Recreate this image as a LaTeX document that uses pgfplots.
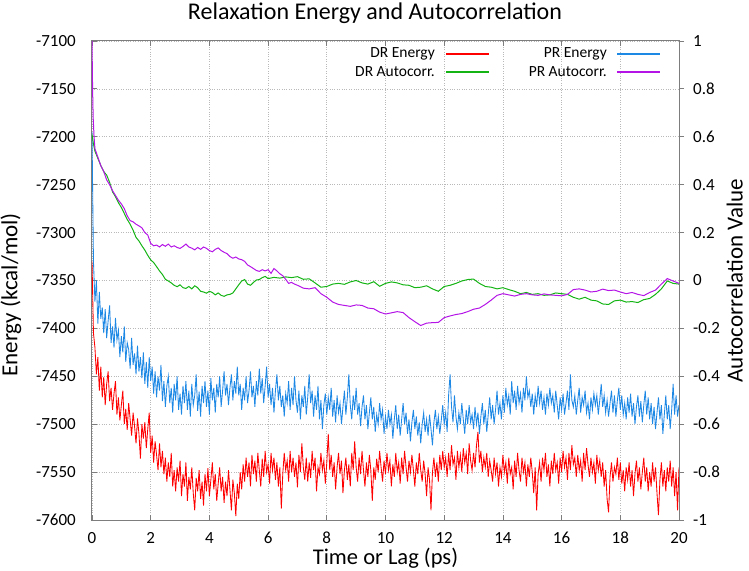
\documentclass[border=0pt]{standalone}
\usepackage{fontspec}
\setmainfont{Carlito}
\usepackage{pgfplots}
\pgfplotsset{compat=1.18}
\usepackage{pgfplotstable}

\definecolor{drE}{RGB}{255,0,0}
\definecolor{prE}{RGB}{30,136,229}
\definecolor{drA}{RGB}{20,180,20}
\definecolor{prA}{RGB}{180,20,230}
\definecolor{axgray}{RGB}{125,125,125}
\definecolor{gridgray}{RGB}{185,185,185}

\pgfplotstableread{
t dr pr
0.00 -7330 -7195
0.05 -7405 -7330
0.10 -7420 -7372
0.15 -7448 -7350
0.20 -7430 -7395
0.25 -7465 -7362
0.30 -7440 -7390
0.35 -7472 -7378
0.40 -7451 -7405
0.45 -7480 -7380
0.50 -7458 -7410
0.55 -7445 -7392
0.60 -7476 -7376
0.65 -7462 -7415
0.70 -7485 -7398
0.75 -7468 -7420
0.80 -7455 -7389
0.85 -7490 -7412
0.90 -7472 -7402
0.95 -7496 -7430
1.00 -7480 -7408
1.05 -7465 -7425
1.10 -7500 -7398
1.15 -7484 -7435
1.20 -7506 -7415
1.25 -7478 -7422
1.30 -7495 -7442
1.35 -7512 -7410
1.40 -7488 -7438
1.45 -7502 -7426
1.50 -7520 -7448
1.55 -7494 -7418
1.60 -7510 -7445
1.65 -7536 -7430
1.70 -7500 -7452
1.75 -7515 -7425
1.80 -7498 -7458
1.85 -7525 -7435
1.90 -7505 -7462
1.95 -7488 -7430
2.00 -7530 -7455
2.05 -7512 -7440
2.10 -7540 -7468
2.15 -7518 -7445
2.20 -7532 -7472
2.25 -7548 -7450
2.30 -7520 -7465
2.35 -7545 -7438
2.40 -7528 -7476
2.45 -7552 -7455
2.50 -7535 -7482
2.55 -7560 -7460
2.60 -7540 -7450
2.65 -7555 -7478
2.70 -7530 -7462
2.75 -7565 -7488
2.80 -7548 -7458
2.85 -7570 -7475
2.90 -7545 -7450
2.95 -7560 -7485
3.00 -7538 -7468
3.05 -7575 -7490
3.10 -7552 -7460
3.15 -7565 -7478
3.20 -7540 -7455
3.25 -7580 -7485
3.30 -7555 -7465
3.35 -7568 -7492
3.40 -7545 -7458
3.45 -7572 -7480
3.50 -7590 -7470
3.55 -7556 -7448
3.60 -7570 -7486
3.65 -7548 -7466
3.70 -7578 -7492
3.75 -7560 -7460
3.80 -7585 -7478
3.85 -7552 -7455
3.90 -7570 -7482
3.95 -7546 -7465
4.00 -7575 -7490
4.05 -7558 -7452
4.10 -7540 -7475
4.15 -7568 -7462
4.20 -7552 -7488
4.25 -7580 -7458
4.30 -7562 -7472
4.35 -7545 -7450
4.40 -7570 -7482
4.45 -7555 -7465
4.50 -7582 -7445
4.55 -7560 -7470
4.60 -7575 -7458
4.65 -7548 -7480
4.70 -7568 -7462
4.75 -7590 -7448
4.80 -7558 -7475
4.85 -7572 -7455
4.90 -7596 -7468
4.95 -7562 -7440
5.00 -7578 -7470
5.05 -7550 -7458
5.10 -7568 -7485
5.15 -7542 -7462
5.20 -7560 -7475
5.25 -7535 -7450
5.30 -7555 -7478
5.35 -7540 -7465
5.40 -7565 -7445
5.45 -7532 -7472
5.50 -7552 -7460
5.55 -7538 -7482
5.60 -7560 -7455
5.65 -7530 -7470
5.70 -7548 -7442
5.75 -7565 -7468
5.80 -7536 -7452
5.85 -7555 -7478
5.90 -7528 -7460
5.95 -7550 -7440
6.00 -7542 -7472
6.05 -7562 -7458
6.10 -7530 -7480
6.15 -7548 -7462
6.20 -7535 -7488
6.25 -7558 -7465
6.30 -7540 -7448
6.35 -7565 -7475
6.40 -7545 -7460
6.45 -7588 -7482
6.50 -7552 -7470
6.55 -7530 -7492
6.60 -7548 -7468
6.65 -7538 -7478
6.70 -7560 -7455
6.75 -7528 -7485
6.80 -7550 -7462
6.85 -7535 -7480
6.90 -7555 -7450
6.95 -7540 -7475
7.00 -7566 -7488
7.05 -7532 -7465
7.10 -7550 -7495
7.15 -7520 -7470
7.20 -7545 -7482
7.25 -7558 -7460
7.30 -7535 -7490
7.35 -7560 -7472
7.40 -7540 -7448
7.45 -7556 -7478
7.50 -7528 -7465
7.55 -7548 -7492
7.60 -7535 -7470
7.65 -7570 -7485
7.70 -7545 -7460
7.75 -7552 -7495
7.80 -7530 -7475
7.85 -7548 -7505
7.90 -7538 -7480
7.95 -7562 -7468
8.00 -7540 -7490
8.05 -7510 -7472
8.10 -7548 -7485
8.15 -7532 -7462
8.20 -7555 -7492
8.25 -7540 -7475
8.30 -7568 -7498
8.35 -7545 -7470
8.40 -7530 -7488
8.45 -7552 -7478
8.50 -7538 -7500
8.55 -7572 -7482
8.60 -7548 -7465
8.65 -7535 -7490
8.70 -7558 -7472
8.75 -7542 -7448
8.80 -7565 -7480
8.85 -7530 -7495
8.90 -7548 -7470
8.95 -7518 -7485
9.00 -7545 -7462
9.05 -7560 -7490
9.10 -7535 -7478
9.15 -7552 -7502
9.20 -7528 -7482
9.25 -7548 -7470
9.30 -7565 -7495
9.35 -7540 -7480
9.40 -7555 -7505
9.45 -7532 -7488
9.50 -7548 -7472
9.55 -7580 -7495
9.60 -7545 -7482
9.65 -7558 -7508
9.70 -7536 -7490
9.75 -7550 -7500
9.80 -7528 -7478
9.85 -7545 -7495
9.90 -7560 -7485
9.95 -7538 -7510
10.00 -7552 -7492
10.05 -7530 -7505
10.10 -7548 -7485
10.15 -7538 -7500
10.20 -7565 -7490
10.25 -7542 -7515
10.30 -7555 -7495
10.35 -7530 -7480
10.40 -7550 -7505
10.45 -7540 -7490
10.50 -7562 -7512
10.55 -7535 -7495
10.60 -7552 -7478
10.65 -7528 -7500
10.70 -7545 -7488
10.75 -7560 -7510
10.80 -7538 -7495
10.85 -7550 -7518
10.90 -7532 -7498
10.95 -7548 -7485
11.00 -7565 -7505
11.05 -7540 -7492
11.10 -7552 -7512
11.15 -7530 -7498
11.20 -7548 -7520
11.25 -7560 -7500
11.30 -7538 -7488
11.35 -7552 -7508
11.40 -7575 -7495
11.45 -7545 -7512
11.50 -7558 -7490
11.55 -7590 -7505
11.60 -7550 -7522
11.65 -7535 -7498
11.70 -7555 -7485
11.75 -7540 -7505
11.80 -7560 -7492
11.85 -7532 -7510
11.90 -7548 -7496
11.95 -7528 -7480
12.00 -7545 -7500
12.05 -7535 -7488
12.10 -7555 -7508
12.15 -7530 -7470
12.20 -7548 -7448
12.25 -7522 -7482
12.30 -7542 -7498
12.35 -7535 -7470
12.40 -7558 -7492
12.45 -7528 -7505
12.50 -7545 -7488
12.55 -7532 -7500
12.60 -7550 -7478
12.65 -7525 -7495
12.70 -7540 -7510
12.75 -7530 -7485
12.80 -7552 -7500
12.85 -7520 -7480
12.90 -7538 -7498
12.95 -7548 -7490
13.00 -7530 -7505
13.05 -7545 -7482
13.10 -7522 -7500
13.15 -7508 -7488
13.20 -7540 -7510
13.25 -7528 -7492
13.30 -7550 -7478
13.35 -7535 -7500
13.40 -7545 -7485
13.45 -7530 -7508
13.50 -7555 -7490
13.55 -7538 -7472
13.60 -7548 -7495
13.65 -7560 -7480
13.70 -7535 -7500
13.75 -7552 -7485
13.80 -7540 -7465
13.85 -7565 -7490
13.90 -7545 -7478
13.95 -7555 -7495
14.00 -7532 -7470
14.05 -7550 -7488
14.10 -7540 -7462
14.15 -7562 -7480
14.20 -7535 -7470
14.25 -7552 -7490
14.30 -7545 -7455
14.35 -7568 -7478
14.40 -7538 -7465
14.45 -7555 -7485
14.50 -7530 -7460
14.55 -7548 -7478
14.60 -7560 -7468
14.65 -7535 -7488
14.70 -7550 -7462
14.75 -7540 -7475
14.80 -7565 -7450
14.85 -7542 -7472
14.90 -7555 -7465
14.95 -7535 -7482
15.00 -7550 -7468
15.05 -7572 -7490
15.10 -7545 -7470
15.15 -7590 -7482
15.20 -7552 -7460
15.25 -7540 -7478
15.30 -7560 -7465
15.35 -7535 -7485
15.40 -7548 -7472
15.45 -7530 -7490
15.50 -7555 -7468
15.55 -7542 -7480
15.60 -7565 -7462
15.65 -7538 -7478
15.70 -7552 -7470
15.75 -7530 -7488
15.80 -7548 -7465
15.85 -7540 -7480
15.90 -7562 -7495
15.95 -7535 -7472
16.00 -7550 -7485
16.05 -7528 -7468
16.10 -7545 -7490
16.15 -7535 -7478
16.20 -7558 -7465
16.25 -7530 -7485
16.30 -7548 -7448
16.35 -7522 -7475
16.40 -7542 -7482
16.45 -7535 -7470
16.50 -7555 -7490
16.55 -7532 -7475
16.60 -7548 -7462
16.65 -7538 -7488
16.70 -7560 -7472
16.75 -7530 -7480
16.80 -7548 -7465
16.85 -7525 -7488
16.90 -7542 -7478
16.95 -7555 -7495
17.00 -7535 -7472
17.05 -7550 -7485
17.10 -7540 -7468
17.15 -7562 -7480
17.20 -7532 -7470
17.25 -7548 -7490
17.30 -7538 -7475
17.35 -7555 -7458
17.40 -7540 -7482
17.45 -7565 -7470
17.50 -7548 -7488
17.55 -7578 -7475
17.60 -7592 -7492
17.65 -7555 -7478
17.70 -7540 -7465
17.75 -7560 -7488
17.80 -7545 -7470
17.85 -7552 -7492
17.90 -7535 -7475
17.95 -7558 -7462
18.00 -7540 -7485
18.05 -7562 -7470
18.10 -7548 -7490
18.15 -7570 -7478
18.20 -7545 -7495
18.25 -7558 -7472
18.30 -7540 -7488
18.35 -7565 -7468
18.40 -7548 -7492
18.45 -7575 -7478
18.50 -7552 -7500
18.55 -7538 -7482
18.60 -7560 -7470
18.65 -7545 -7492
18.70 -7568 -7476
18.75 -7550 -7498
18.80 -7535 -7480
18.85 -7560 -7465
18.90 -7545 -7490
18.95 -7570 -7472
19.00 -7550 -7495
19.05 -7565 -7478
19.10 -7540 -7500
19.15 -7560 -7482
19.20 -7545 -7505
19.25 -7572 -7488
19.30 -7595 -7472
19.35 -7558 -7495
19.40 -7540 -7480
19.45 -7565 -7510
19.50 -7548 -7490
19.55 -7570 -7470
19.60 -7545 -7495
19.65 -7560 -7480
19.70 -7538 -7505
19.75 -7565 -7485
19.80 -7545 -7458
19.85 -7575 -7490
19.90 -7550 -7470
19.95 -7590 -7492
20.00 -7545 -7480
}\energy

\pgfplotstableread{
t ac
0.00 1.000
0.02 0.800
0.04 0.680
0.07 0.600
0.10 0.550
0.20 0.515
0.30 0.480
0.40 0.455
0.50 0.420
0.60 0.400
0.70 0.375
0.80 0.355
0.90 0.335
1.00 0.320
1.10 0.300
1.20 0.270
1.30 0.250
1.40 0.245
1.50 0.235
1.60 0.228
1.70 0.220
1.80 0.200
1.90 0.190
2.00 0.155
2.10 0.145
2.20 0.148
2.30 0.140
2.40 0.150
2.50 0.143
2.60 0.152
2.70 0.140
2.80 0.145
2.90 0.138
3.00 0.134
3.10 0.142
3.20 0.152
3.30 0.140
3.40 0.135
3.50 0.128
3.60 0.138
3.70 0.130
3.80 0.140
3.90 0.134
4.00 0.125
4.10 0.120
4.20 0.130
4.30 0.136
4.40 0.125
4.50 0.118
4.60 0.112
4.70 0.100
4.80 0.093
4.90 0.098
5.00 0.090
5.10 0.087
5.20 0.080
5.30 0.065
5.40 0.058
5.50 0.050
5.60 0.042
5.70 0.038
5.80 0.045
5.90 0.040
6.00 0.045
6.10 0.030
6.20 0.050
6.30 0.040
6.40 0.028
6.50 0.020
6.60 0.005
6.70 -0.012
6.80 -0.008
6.90 -0.015
7.00 -0.020
7.20 -0.032
7.40 -0.035
7.60 -0.030
7.80 -0.055
8.00 -0.070
8.20 -0.090
8.40 -0.100
8.60 -0.104
8.80 -0.108
9.00 -0.102
9.20 -0.104
9.40 -0.115
9.60 -0.118
9.80 -0.132
10.00 -0.140
10.20 -0.135
10.40 -0.130
10.60 -0.134
10.80 -0.155
11.00 -0.172
11.20 -0.188
11.40 -0.178
11.60 -0.176
11.80 -0.175
12.00 -0.155
12.20 -0.148
12.40 -0.142
12.60 -0.138
12.80 -0.130
13.00 -0.120
13.20 -0.115
13.40 -0.100
13.60 -0.082
13.80 -0.062
14.00 -0.055
14.20 -0.060
14.40 -0.065
14.60 -0.058
14.80 -0.055
15.00 -0.060
15.20 -0.062
15.40 -0.056
15.60 -0.060
15.80 -0.062
16.00 -0.064
16.20 -0.058
16.40 -0.038
16.60 -0.035
16.80 -0.040
17.00 -0.048
17.20 -0.045
17.40 -0.036
17.60 -0.042
17.80 -0.040
18.00 -0.048
18.20 -0.055
18.40 -0.050
18.60 -0.058
18.80 -0.063
19.00 -0.050
19.20 -0.040
19.40 -0.015
19.60 0.008
19.80 -0.002
20.00 -0.012
}\prauto

\pgfplotstableread{
t ac
0.00 0.610
0.05 0.570
0.10 0.540
0.20 0.510
0.30 0.480
0.40 0.455
0.50 0.440
0.60 0.410
0.70 0.370
0.80 0.350
0.90 0.325
1.00 0.305
1.10 0.280
1.20 0.255
1.30 0.235
1.40 0.210
1.50 0.180
1.60 0.165
1.70 0.145
1.80 0.127
1.90 0.105
2.00 0.086
2.10 0.075
2.20 0.058
2.30 0.040
2.40 0.025
2.50 0.005
2.60 -0.002
2.70 -0.010
2.80 -0.020
2.90 -0.026
3.00 -0.018
3.10 -0.030
3.20 -0.033
3.30 -0.025
3.40 -0.035
3.50 -0.022
3.60 -0.030
3.70 -0.045
3.80 -0.048
3.90 -0.053
4.00 -0.045
4.10 -0.050
4.20 -0.060
4.30 -0.052
4.40 -0.062
4.50 -0.066
4.60 -0.060
4.70 -0.058
4.80 -0.052
4.90 -0.035
5.00 -0.018
5.10 -0.002
5.20 0.004
5.30 -0.015
5.40 -0.020
5.50 -0.008
5.60 0.002
5.70 0.004
5.80 0.012
5.90 0.017
6.00 0.008
6.20 0.013
6.40 0.010
6.60 0.015
6.80 0.012
7.00 0.016
7.20 0.005
7.40 0.007
7.60 -0.010
7.80 -0.028
8.00 -0.025
8.20 -0.015
8.40 -0.012
8.60 -0.016
8.80 -0.006
9.00 0.000
9.20 -0.010
9.40 -0.015
9.60 -0.005
9.80 -0.024
10.00 -0.012
10.20 -0.006
10.40 -0.010
10.60 -0.018
10.80 -0.020
11.00 -0.030
11.20 -0.028
11.40 -0.022
11.60 -0.035
11.80 -0.045
12.00 -0.025
12.20 -0.020
12.40 -0.012
12.60 -0.002
12.80 0.004
13.00 0.006
13.20 -0.012
13.40 -0.025
13.60 -0.028
13.80 -0.035
14.00 -0.030
14.20 -0.038
14.40 -0.045
14.60 -0.055
14.80 -0.050
15.00 -0.058
15.20 -0.055
15.40 -0.062
15.60 -0.060
15.80 -0.052
16.00 -0.055
16.20 -0.058
16.40 -0.070
16.60 -0.078
16.80 -0.070
17.00 -0.082
17.20 -0.085
17.40 -0.098
17.60 -0.100
17.80 -0.085
18.00 -0.082
18.20 -0.090
18.40 -0.088
18.60 -0.092
18.80 -0.080
19.00 -0.075
19.20 -0.058
19.40 -0.035
19.60 -0.002
19.80 -0.012
20.00 -0.015
}\drauto

\begin{document}
\begin{tikzpicture}
\useasboundingbox (-92pt,-50pt) rectangle (657pt,520pt);
\begin{axis}[
  scale only axis, width=587pt, height=479pt,
  xmin=0, xmax=20, ymin=-7600, ymax=-7100,
  xtick={0,2,...,20},
  ytick={-7600,-7550,-7500,-7450,-7400,-7350,-7300,-7250,-7200,-7150,-7100},
  ytick pos=left,
  tick align=inside, major tick length=5pt,
  grid=major, grid style={gridgray, dotted, line width=0.7pt},
  axis line style={axgray, line width=1pt},
  tick style={axgray, line width=0.8pt},
  /pgf/number format/assume math mode=true,
  /pgf/number format/1000 sep={},
  ticklabel style={font=\fontsize{17}{19}\selectfont, inner sep=0pt},
  yticklabel style={anchor=east, xshift=-16pt},
  xticklabel style={anchor=north, yshift=-12pt},
  xlabel={Time or Lag (ps)},
  ylabel={Energy (kcal/mol)},
  xlabel style={at={(axis description cs:0.5,0)}, anchor=center, yshift=-38pt, font=\fontsize{22.5}{26}\selectfont},
  ylabel style={at={(axis description cs:-0.1380,0.47)}, anchor=center, font=\fontsize{23}{27}\selectfont},
  title={Relaxation Energy and Autocorrelation},
  title style={at={(axis description cs:0.482,1)}, anchor=base, yshift=15pt, font=\fontsize{24}{28}\selectfont},
]
\addplot[color=drE, line width=0.85pt] table[x=t, y=dr] {\energy};
\addplot[color=prE, line width=0.85pt] table[x=t, y=pr] {\energy};
\end{axis}
\begin{axis}[
  scale only axis, width=587pt, height=479pt,
  xmin=0, xmax=20, ymin=-1, ymax=1,
  axis y line*=right, axis x line=none,
  ytick={-1,-0.8,-0.6,-0.4,-0.2,0,0.2,0.4,0.6,0.8,1},
  tick align=outside, major tick length=5pt,
  axis line style={axgray, line width=1pt},
  tick style={axgray, line width=0.8pt},
  /pgf/number format/assume math mode=true,
  ticklabel style={font=\fontsize{17}{19}\selectfont, inner sep=0pt},
  yticklabel style={anchor=west, xshift=9pt},
  ylabel={Autocorrelation Value},
  ylabel style={at={(axis description cs:1.0950,0.5)}, anchor=center, font=\fontsize{23}{27}\selectfont},
]
\addplot[color=drA, line width=1pt] table[x=t, y=ac] {\drauto};
\addplot[color=prA, line width=1pt] table[x=t, y=ac] {\prauto};
% legend (text followed by a line sample, as in the reference)
\begin{scope}[every node/.style={font=\fontsize{15.5}{18}\selectfont, inner sep=0pt}]
\node[anchor=east] at (axis description cs:0.5843,0.9729) {DR Energy};
\draw[drE, line width=1.3pt] (axis description cs:0.6031,0.9729) -- (axis description cs:0.6763,0.9729);
\node[anchor=east] at (axis description cs:0.8773,0.9729) {PR Energy};
\draw[prE, line width=1.3pt] (axis description cs:0.8944,0.9729) -- (axis description cs:0.9676,0.9729);
\node[anchor=east] at (axis description cs:0.5843,0.9353) {DR Autocorr.};
\draw[drA, line width=1.3pt] (axis description cs:0.6031,0.9353) -- (axis description cs:0.6763,0.9353);
\node[anchor=east] at (axis description cs:0.8773,0.9353) {PR Autocorr.};
\draw[prA, line width=1.3pt] (axis description cs:0.8944,0.9353) -- (axis description cs:0.9676,0.9353);
\end{scope}
\end{axis}
\end{tikzpicture}
\end{document}
